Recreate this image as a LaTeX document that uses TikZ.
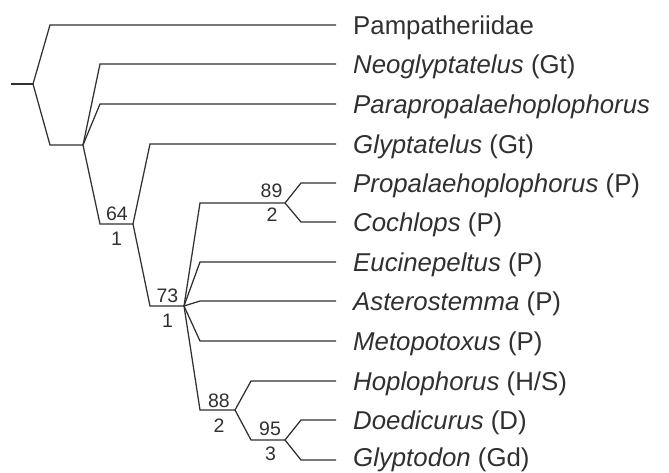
\documentclass[tikz,border=0pt]{standalone}
\usepackage{fontspec}
\setmainfont{Liberation Sans}
\definecolor{ink}{HTML}{303030}
\begin{document}
\begin{tikzpicture}[x=1pt,y=-1pt,
  br/.style={draw=ink, line width=1.25pt, line join=miter},
  taxon/.style={anchor=base west, inner sep=0pt, text=ink, font=\fontsize{25.8}{30}\selectfont},
  supval/.style={anchor=base, inner sep=0pt, text=ink, font=\fontsize{19.5}{22}\selectfont}]
\useasboundingbox (0,0) rectangle (669,473);
% internal nodes
\coordinate (stub) at (11,84);
\coordinate (root) at (33,84);
\coordinate (n1) at (83,145);
\coordinate (n2) at (133,224);
\coordinate (n3) at (184,306);
\coordinate (n4) at (285,203);
\coordinate (n5) at (235,410);
\coordinate (n6) at (285,440);
% elbows
\coordinate (k1) at (50,145);
\coordinate (k2) at (100,224);
\coordinate (k3) at (150,306);
\coordinate (k4) at (200,203);
\coordinate (k5) at (200,410);
\coordinate (k6) at (251,440);
% leaf starts
\coordinate (s1) at (50,25);
\coordinate (s2) at (100,64);
\coordinate (s3) at (100,104);
\coordinate (s4) at (150,144);
\coordinate (s5) at (301,183);
\coordinate (s6) at (301,222);
\coordinate (s7) at (200,262);
\coordinate (s8) at (200,301);
\coordinate (s9) at (200,341);
\coordinate (s10) at (251,381);
\coordinate (s11) at (301,420);
\coordinate (s12) at (301,460);
% leaf ends
\foreach \i/\y in {1/25,2/64,3/104,4/144,5/183,6/222,7/262,8/301,9/341,10/381,11/420,12/460}
  \coordinate (e\i) at (336,\y);
% labels
\node[taxon] (t1) at (353,34.3) {Pampatheriidae};
\node[taxon] (t2) at (353,73.3) {\textit{Neoglyptatelus} (Gt)};
\node[taxon] (t3) at (353,113.3) {\textit{Parapropalaehoplophorus}};
\node[taxon] (t4) at (353,153.3) {\textit{Glyptatelus} (Gt)};
\node[taxon] (t5) at (353,192.3) {\textit{Propalaehoplophorus} (P)};
\node[taxon] (t6) at (353,231.3) {\textit{Cochlops} (P)};
\node[taxon] (t7) at (353,271.3) {\textit{Eucinepeltus} (P)};
\node[taxon] (t8) at (353,310.3) {\textit{Asterostemma} (P)};
\node[taxon] (t9) at (353,350.3) {\textit{Metopotoxus} (P)};
\node[taxon] (t10) at (353,390.3) {\textit{Hoplophorus} (H/S)};
\node[taxon] (t11) at (353,429.3) {\textit{Doedicurus} (D)};
\node[taxon] (t12) at (353,466.8) {\textit{Glyptodon} (Gd)};
% branches
\draw[br] (stub) -- (root);
\draw[br] (root) -- (s1) -- (e1);
\draw[br] (root) -- (k1) -- (n1);
\draw[br] (n1) -- (s2) -- (e2);
\draw[br] (n1) -- (s3) -- (e3);
\draw[br] (n1) -- (k2) -- (n2);
\draw[br] (n2) -- (s4) -- (e4);
\draw[br] (n2) -- (k3) -- (n3);
\draw[br] (n3) -- (k4) -- (n4);
\draw[br] (n4) -- (s5) -- (e5);
\draw[br] (n4) -- (s6) -- (e6);
\draw[br] (n3) -- (s7) -- (e7);
\draw[br] (n3) -- (s8) -- (e8);
\draw[br] (n3) -- (s9) -- (e9);
\draw[br] (n3) -- (k5) -- (n5);
\draw[br] (n5) -- (s10) -- (e10);
\draw[br] (n5) -- (k6) -- (n6);
\draw[br] (n6) -- (s11) -- (e11);
\draw[br] (n6) -- (s12) -- (e12);
% support values
\node[supval] (b64) at (117,220) {64};
\node[supval] (d1) at (116.5,245) {1};
\node[supval] (b73) at (167.5,302) {73};
\node[supval] (d2) at (167.5,327) {1};
\node[supval] (b89) at (271.5,197) {89};
\node[supval] (d3) at (272,222) {2};
\node[supval] (b88) at (219,407) {88};
\node[supval] (d4) at (219,432) {2};
\node[supval] (b95) at (270,435) {95};
\node[supval] (d5) at (270.5,460) {3};
\end{tikzpicture}
\end{document}
